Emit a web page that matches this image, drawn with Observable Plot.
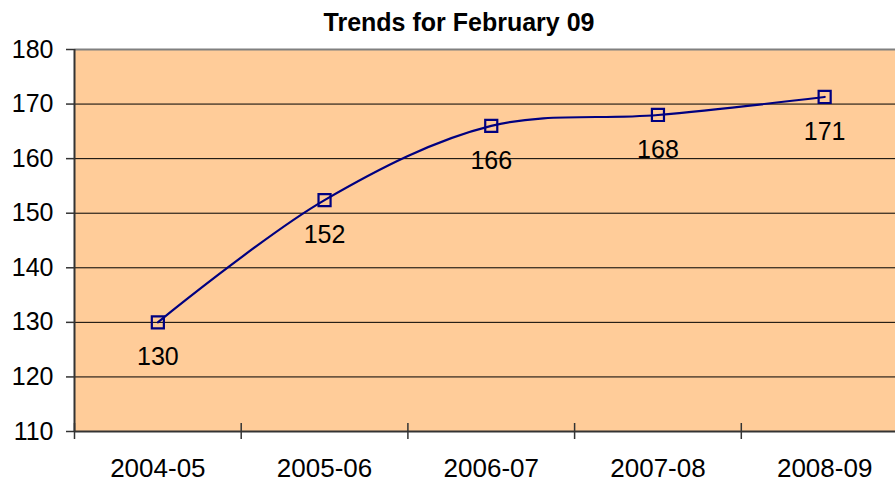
<!DOCTYPE html>
<html>
<head>
<meta charset="utf-8">
<script src="https://cdn.jsdelivr.net/npm/d3@7"></script>
<script src="https://cdn.jsdelivr.net/npm/@observablehq/plot@0.6"></script>
<style>
  html, body { margin: 0; padding: 0; background: #fff; overflow: hidden; }
  #wrap { position: relative; width: 895px; height: 482px; }
  #title { position: absolute; left: 0; top: 0; box-sizing: border-box; width: 895px; height: 38px; padding: 8px 0 0 23px; line-height: 30px;
           text-align: center; font: bold 25px "Liberation Sans", Arial, sans-serif; color: #000; white-space: nowrap; z-index: 1; }
</style>
</head>
<body>
<div id="wrap">
<div id="title">Trends for February 09</div>
<div id="chart"></div>
</div>
<script>
const categories = ["2004-05", "2005-06", "2006-07", "2007-08", "2008-09"];
const values = [130.0, 152.4, 166.0, 168.0, 171.3];
const yTicks = [110, 120, 130, 140, 150, 160, 170, 180];
const gridValues = [120, 130, 140, 150, 160, 170];

const data = categories.map((c, i) => ({i, c, v: values[i]}));
const boundaries = d3.range(categories.length + 1).map(k => k - 0.5);

const font = "Liberation Sans, Arial, sans-serif";
const navy = "#000080";

const chart = Plot.plot({
  width: 895,
  height: 482,
  marginTop: 49,
  marginBottom: 51,
  marginLeft: 74,
  marginRight: 0,
  style: {fontFamily: font, fontSize: "25px", color: "#000", background: "transparent", overflow: "hidden"},
  x: {type: "linear", domain: [-0.5, categories.length - 0.5], range: [74, 907.5], axis: null},
  y: {domain: [110, 180], axis: null},
  marks: [
    Plot.frame({fill: "#FFCC99", stroke: null}),
    Plot.ruleY(gridValues, {stroke: "#000", strokeWidth: 1}),
    Plot.ruleY([180], {stroke: "#808080", strokeWidth: 2}),
    Plot.ruleY([110], {stroke: "#333", strokeWidth: 2}),
    Plot.ruleX([-0.5], {stroke: "#333", strokeWidth: 2}),
    Plot.axisY({ticks: yTicks, tickSize: 8, tickPadding: 13, fontSize: 25, label: null, stroke: "#333", strokeWidth: 1.5}),
    Plot.axisX({ticks: boundaries, tickSize: 16, dy: -8, tickFormat: () => "", label: null, stroke: "#333", strokeWidth: 1.5}),
    Plot.axisX({ticks: categories.map((c, i) => i), tickSize: 0, tickPadding: 27, tickFormat: i => categories[i], fontSize: 26, label: null}),
    Plot.line(data, {x: "i", y: "v", curve: "catmull-rom", stroke: navy, strokeWidth: 2.2}),
    Plot.dot(data, {x: "i", y: "v", symbol: "square", r: 6.8, stroke: navy, strokeWidth: 2.2, fill: "none"}),
    Plot.text(data, {x: "i", y: "v", text: d => d3.format(".0f")(d.v), dy: 35, fontSize: 25, fill: "#000"})
  ]
});
document.getElementById("chart").appendChild(chart);
</script>
</body>
</html>
